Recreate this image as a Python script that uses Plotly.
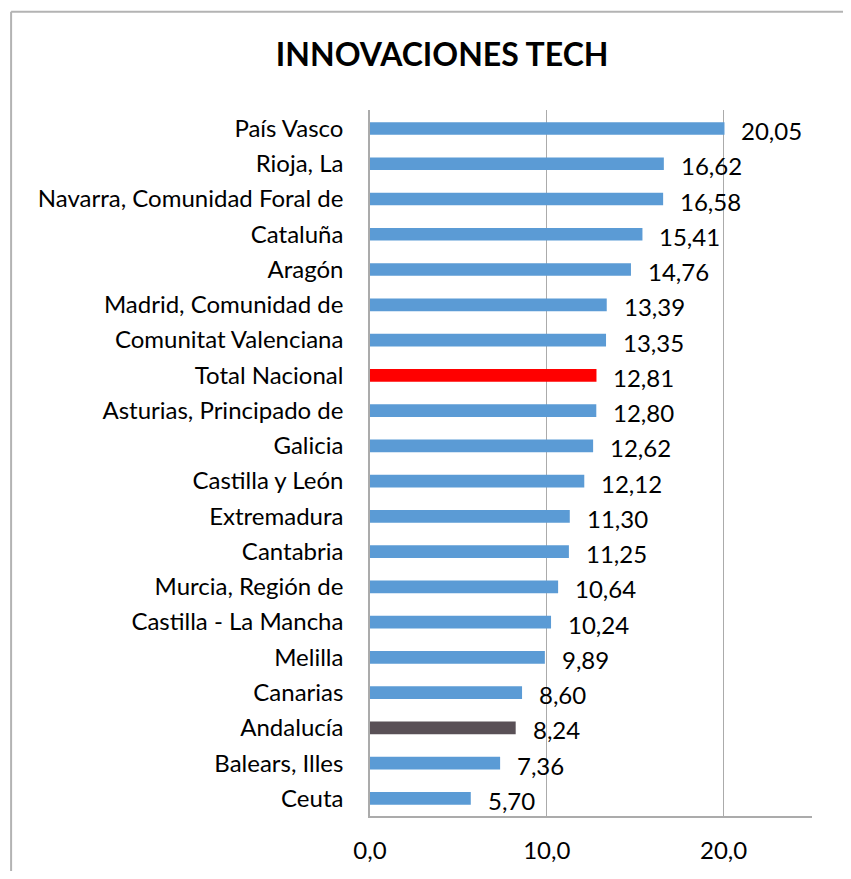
import plotly.graph_objects as go

# data, top to bottom as shown
regions = [
    "País Vasco", "Rioja, La", "Navarra, Comunidad Foral de", "Cataluña", "Aragón",
    "Madrid, Comunidad de", "Comunitat Valenciana", "Total Nacional",
    "Asturias, Principado de", "Galicia", "Castilla y León", "Extremadura",
    "Cantabria", "Murcia, Región de", "Castilla - La Mancha", "Melilla",
    "Canarias", "Andalucía", "Balears, Illes", "Ceuta",
]
values = [20.05, 16.62, 16.58, 15.41, 14.76, 13.39, 13.35, 12.81, 12.80, 12.62,
          12.12, 11.30, 11.25, 10.64, 10.24, 9.89, 8.60, 8.24, 7.36, 5.70]
x_ticks = [0, 10, 20]

BLUE = "#5B9BD5"
colors = []
for r in regions:
    if r == "Total Nacional":
        colors.append("#FF0000")
    elif r == "Andalucía":
        colors.append("#595056")
    else:
        colors.append(BLUE)

FONT = "Lato, Carlito, Calibri, sans-serif"

fig = go.Figure(go.Bar(
    x=values, y=regions, orientation="h",
    marker=dict(color=colors, line=dict(width=0)),
    width=0.36,
    hoverinfo="x+y",
))

# value labels, Excel style (a bit to the right and below)
anns = []
for r, v in zip(regions, values):
    anns.append(dict(
        x=v, y=r, xref="x", yref="y",
        text=f"{v:.2f}".replace(".", ","),
        showarrow=False, xanchor="left", yanchor="middle",
        xshift=15, yshift=-2,
        font=dict(family=FONT, size=24, color="black"),
    ))

# chart frame: only left and top edges are inside the window
frame = dict(color="#B3B3B3", width=2)
shapes = [
    dict(type="line", xref="paper", yref="paper", x0=-0.812, x1=-0.812,
         y0=-1, y1=1.139, line=frame, layer="below"),
    dict(type="line", xref="paper", yref="paper", x0=-0.812, x1=2,
         y0=1.139, y1=1.139, line=frame, layer="below"),
]

# page body has an 8px margin, keep the figure inside the window
fig.update_layout(
    width=835, height=863,
    margin=dict(l=362, r=31, t=102, b=55),
    plot_bgcolor="white", paper_bgcolor="white",
    font=dict(family=FONT, size=24, color="black"),
    title=dict(text="<b>INNOVACIONES TECH</b>", x=0.52, xanchor="center",
               y=0.9455, yanchor="middle",
               font=dict(family=FONT, size=32, color="black")),
    showlegend=False,
    annotations=anns,
    shapes=shapes,
    xaxis=dict(
        range=[0, 25], tickvals=x_ticks,
        ticktext=[f"{t:.1f}".replace(".", ",") for t in x_ticks],
        showgrid=True, gridcolor="#ABABAB", gridwidth=1,
        showline=True, linecolor="#ABABAB", linewidth=1.5,
        zeroline=False, ticks="", ticklabelstandoff=12,
        tickfont=dict(family=FONT, size=24), automargin=False,
    ),
    yaxis=dict(
        autorange="reversed",
        showline=True, linecolor="#ABABAB", linewidth=1.5,
        showgrid=False, ticks="", ticklabelstandoff=20,
        tickfont=dict(family=FONT, size=24), automargin=False,
    ),
)

fig.write_html("out.html", config={"displayModeBar": False})
